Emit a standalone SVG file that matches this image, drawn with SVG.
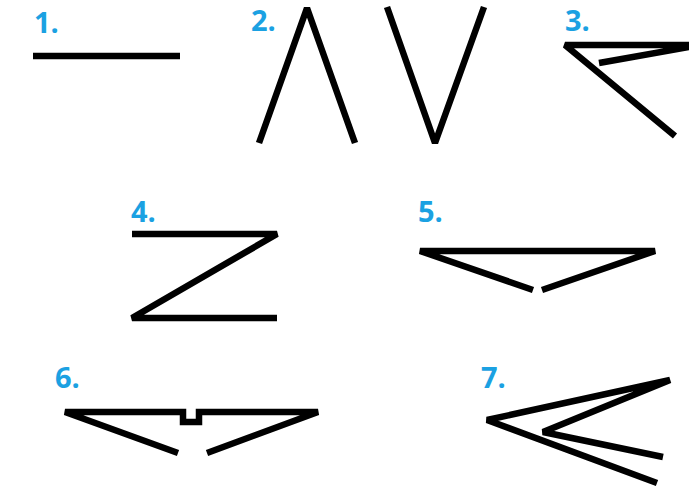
<svg xmlns="http://www.w3.org/2000/svg" width="689" height="498" viewBox="0 0 689 498">
<style>
.lbl{font-family:"Open Sans","Liberation Sans",sans-serif;font-weight:bold;font-size:29px;fill:#1BA1E2}
.ln{fill:none;stroke:#000;stroke-width:6.5;stroke-linejoin:miter;stroke-miterlimit:2;stroke-linecap:butt}
</style>
<rect width="689" height="498" fill="#fff"/>
<g id="fig1">
<text class="lbl" x="34" y="33">1.</text>
<line class="ln" x1="33" y1="56" x2="180" y2="56"/>
</g>
<g id="fig2">
<text class="lbl" x="251" y="31">2.</text>
<polyline class="ln" points="259,143 307,8 355,143"/>
<polyline class="ln" points="387,7 435,143 484,7"/>
</g>
<g id="fig3">
<text class="lbl" x="565" y="31">3.</text>
<polyline class="ln" points="599,63 700,45 565,45 675,136"/>
</g>
<g id="fig4">
<text class="lbl" x="131" y="222">4.</text>
<polyline class="ln" points="132,234 277,234 132,318 277,318"/>
</g>
<g id="fig5">
<text class="lbl" x="418" y="222">5.</text>
<polyline class="ln" points="533,290 420,251 655,251 542,290"/>
</g>
<g id="fig6">
<text class="lbl" x="55" y="388">6.</text>
<polyline class="ln" points="178,453 65,412 183,412 183,422 199,422 199,412 318,412 207,453"/>
</g>
<g id="fig7">
<text class="lbl" x="481" y="388">7.</text>
<polyline class="ln" points="657,483 487,420 670,380 543,432 663,457"/>
</g>
</svg>
